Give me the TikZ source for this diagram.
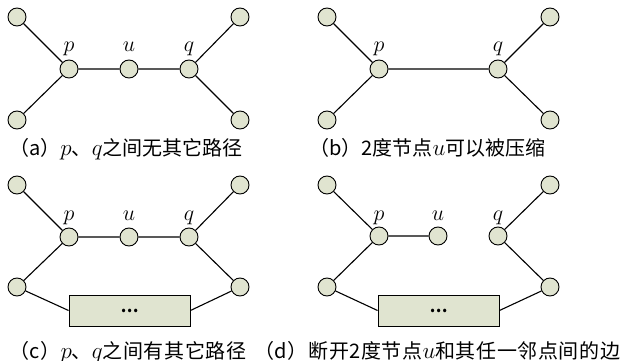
\RequirePackage{fix-cm}
\documentclass[tikz,border=0pt]{standalone}
\usepackage{fontspec}
\newfontfamily\cjk{Noto Sans CJK SC}
\newfontfamily\cjkwide{Noto Sans CJK SC}[LetterSpace=3]
\newcommand\mv[1]{{\fontsize{23}{23}\selectfont$#1$}}
\definecolor{nodefill}{RGB}{224,228,208}
\tikzset{
  vtx/.style={circle,draw=black,line width=0.9pt,fill=nodefill,minimum size=18pt,inner sep=0pt},
  blockbox/.style={draw=black,line width=0.9pt,fill=nodefill,minimum width=121pt,minimum height=31pt,inner sep=0pt,
    font=\fontsize{16}{16}\selectfont\cjk\bfseries},
  edge/.style={line width=1.1pt},
  lbl/.style={font=\fontsize{22}{22}\selectfont,anchor=base,inner sep=0pt},
  caption/.style={font=\fontsize{20}{20}\selectfont\cjk,anchor=base west,inner sep=0pt},
  widecaption/.style={caption,font=\fontsize{20}{20}\selectfont\cjkwide}
}
\begin{document}
\begin{tikzpicture}[x=1pt,y=-1pt]
\useasboundingbox (0,0) rectangle (622,361);

% (a) path through u, no other p-q path
\node[vtx] (a1) at (17,17) {};
\node[vtx] (a2) at (17,120) {};
\node[vtx] (ap) at (69,69) {};
\node[vtx] (au) at (129,69) {};
\node[vtx] (aq) at (189,69) {};
\node[vtx] (a3) at (240,17) {};
\node[vtx] (a4) at (240,120) {};
\draw[edge] (a1) -- (ap) (a2) -- (ap) (ap) -- (au) (au) -- (aq) (aq) -- (a3) (aq) -- (a4);
\node[lbl] at (69,52) {$p$};
\node[lbl] at (129,52) {$u$};
\node[lbl] at (189,52) {$q$};
\node[caption] at (9,155) {（a）\mv{p}、\mv{q}之间无其它路径};

% (b) degree-2 node compressed
\node[vtx] (b1) at (327,17) {};
\node[vtx] (b2) at (327,120) {};
\node[vtx] (bp) at (379,69) {};
\node[vtx] (bq) at (498,69) {};
\node[vtx] (b3) at (550,17) {};
\node[vtx] (b4) at (550,120) {};
\draw[edge] (b1) -- (bp) (b2) -- (bp) (bp) -- (bq) (bq) -- (b3) (bq) -- (b4);
\node[lbl] at (379,52) {$p$};
\node[lbl] at (498,52) {$q$};
\node[caption] at (309,155) {（b）2度节点\mv{u}可以被压缩};

% (c) another p-q path exists
\node[vtx] (c1) at (17,185) {};
\node[vtx] (c2) at (17,287) {};
\node[vtx] (cp) at (69,237) {};
\node[vtx] (cu) at (129,237) {};
\node[vtx] (cq) at (189,237) {};
\node[vtx] (c3) at (240,185) {};
\node[vtx] (c4) at (240,287) {};
\node[blockbox] (cb) at (129.5,310.5) {…};
\draw[edge] (c1) -- (cp) (c2) -- (cp) (cp) -- (cu) (cu) -- (cq) (cq) -- (c3) (cq) -- (c4)
  (c2) -- (cb.west) (c4) -- (cb.east);
\node[lbl] at (69,220) {$p$};
\node[lbl] at (129,220) {$u$};
\node[lbl] at (189,220) {$q$};
\node[widecaption] at (9,358) {（c）\mv{p}、\mv{q}之间有其它路径};

% (d) cut the edge between u and one neighbour
\node[vtx] (d1) at (327,185) {};
\node[vtx] (d2) at (327,287) {};
\node[vtx] (dp) at (379,236) {};
\node[vtx] (du) at (438,236) {};
\node[vtx] (dq) at (498,236) {};
\node[vtx] (d3) at (550,185) {};
\node[vtx] (d4) at (550,287) {};
\node[blockbox] (db) at (438.5,310.5) {…};
\draw[edge] (d1) -- (dp) (d2) -- (dp) (dp) -- (du) (dq) -- (d3) (dq) -- (d4)
  (d2) -- (db.west) (d4) -- (db.east);
\node[lbl] at (379,220) {$p$};
\node[lbl] at (438,220) {$u$};
\node[lbl] at (498,220) {$q$};
\node[widecaption] at (254,358) {（d）断开2度节点\mv{u}和其任一邻点间的边};
\end{tikzpicture}
\end{document}
